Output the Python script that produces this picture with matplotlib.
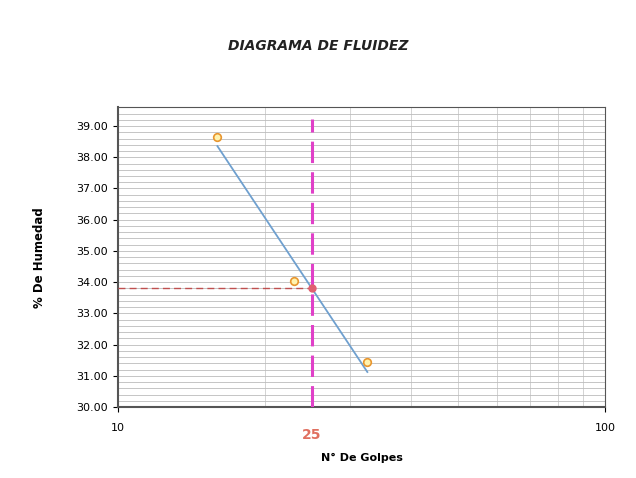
import numpy as np
import matplotlib.pyplot as plt
from matplotlib.ticker import FixedLocator, NullFormatter

golpes = [16, 23, 32.5]
humedad = [38.65, 34.05, 31.43]
n_ref = 25
y_ticks = [30, 31, 32, 33, 34, 35, 36, 37, 38, 39]

# trend line in log scale
m, b = np.polyfit(np.log10(golpes), humedad, 1)
xs = np.array([golpes[0], golpes[-1]])
ys = m * np.log10(xs) + b
ll = m * np.log10(n_ref) + b

fig = plt.figure(figsize=(6.36, 4.78), dpi=100)
ax = fig.add_axes([0.1855, 0.1485, 0.766, 0.627])
ax.set_xscale('log')
ax.set_xlim(10, 100)
ax.set_ylim(30, 39.6)

ax.yaxis.set_minor_locator(FixedLocator(np.arange(30, 39.6, 0.2)))
ax.grid(True, which='both', axis='y', color='#bbbbbb', lw=0.6)
ax.grid(True, which='minor', axis='x', color='#cccccc', lw=0.6)
ax.set_xticks([10, 100])
ax.set_xticklabels(['10', '100'], fontsize=8)
ax.xaxis.set_minor_formatter(NullFormatter())
ax.tick_params(axis='x', which='minor', length=0)
ax.tick_params(axis='x', which='major', pad=8)
ax.tick_params(axis='y', which='minor', length=0)
ax.set_yticks(y_ticks)
ax.set_yticklabels(['%.2f' % v for v in y_ticks], fontsize=8)

ax.plot(xs, ys, color='#6fa0cf', lw=1.3, zorder=3)
ax.scatter(golpes, humedad, s=30, facecolor='#fff3b0', edgecolor='#e8962e', lw=1.2, zorder=4)
ax.axvline(n_ref, ymin=0, ymax=0.96, color='#e040c8', ls=(0, (7, 3)), lw=2.2, zorder=5)
ax.plot([10, n_ref], [ll, ll], color='#c05050', ls=(0, (5, 3)), lw=1.0, zorder=3)
ax.plot([n_ref], [ll], 'o', ms=5, color='#e06070', zorder=6)

for s in ax.spines.values():
    s.set_color('#555555')
ax.spines['left'].set_linewidth(1.5)
ax.spines['bottom'].set_linewidth(1.5)

ax.text(n_ref, -0.07, '25', transform=ax.get_xaxis_transform(), ha='center', va='top',
        fontsize=10, fontweight='bold', color='#e07060')
ax.set_xlabel('N° De Golpes', fontsize=8, fontweight='bold', labelpad=14)
ax.set_ylabel('% De Humedad', fontsize=8.5, fontweight='bold', labelpad=22)
fig.text(0.5, 0.895, 'DIAGRAMA DE FLUIDEZ', ha='center', fontsize=10,
         fontweight='bold', style='italic', color='#222222')

fig.savefig('out.png', dpi=100)
